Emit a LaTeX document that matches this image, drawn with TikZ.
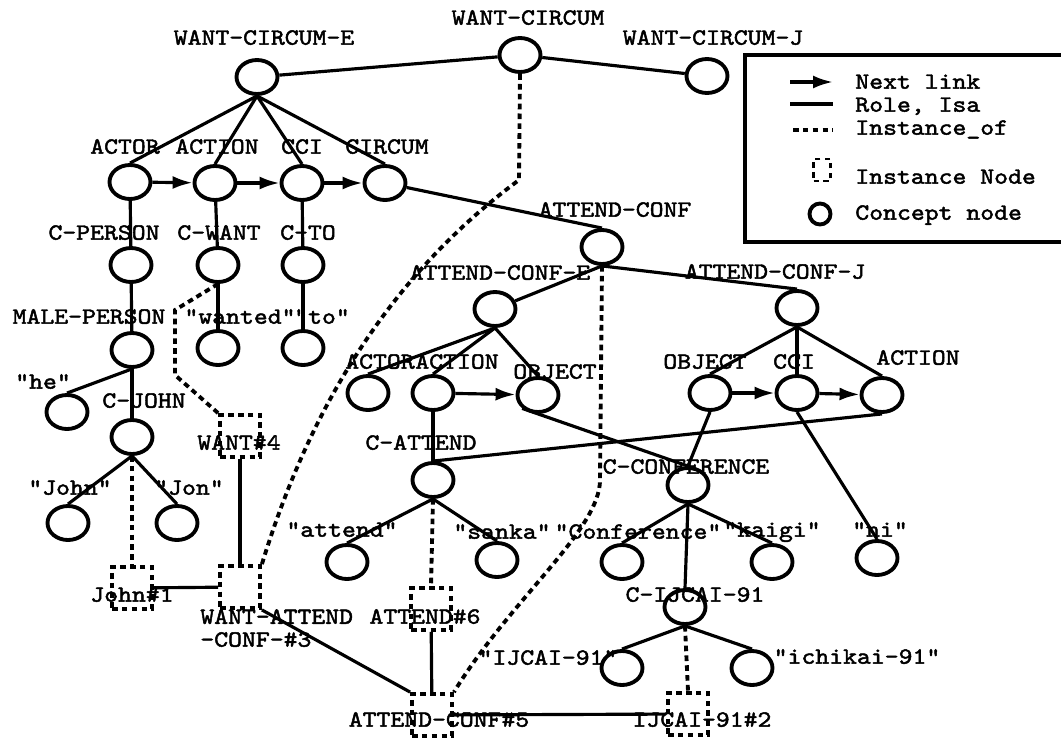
\documentclass[tikz,border=0pt]{standalone}
\usepackage{fontspec}
\usetikzlibrary{arrows.meta,shapes.geometric}
\newfontfamily\lblfont{lmmono10-regular.otf}[FakeStretch=1.14, FakeBold=2]

\begin{document}
\begin{tikzpicture}[x=0.02cm, y=-0.02cm,
  cpt/.style={ellipse, draw, line width=2.2pt, minimum width=0.82cm, minimum height=0.68cm, inner sep=0pt},
  inst/.style={rectangle, draw, line width=2.2pt, dash pattern=on 3.2pt off 2.4pt, minimum width=0.8cm, minimum height=0.84cm, inner sep=0pt},
  lbl/.style={font=\lblfont\fontsize{13.2}{13}\selectfont, inner sep=0pt, text height=7.6pt, text depth=0pt},
  lbltwo/.style={font=\lblfont\fontsize{13.2}{13}\selectfont, inner sep=0pt, align=left},
  role/.style={line width=1.8pt},
  nxt/.style={line width=1.8pt, -{Latex[length=0.4cm, width=0.26cm]}},
  instof/.style={line width=2.2pt, dash pattern=on 3.2pt off 2.4pt}]

\useasboundingbox (0,0) rectangle (1061,737);

% WANT-CIRCUM frames
\node[cpt] (wce) at (257,77) {};
\node[cpt] (wc) at (520,55) {};
\node[cpt] (wcj) at (707,76) {};
\node[cpt] (eactor) at (130,182) {};
\node[cpt] (eaction) at (215,183) {};
\node[cpt] (ecci) at (302,183) {};
\node[cpt] (ecircum) at (385,183) {};
\node[cpt] (cperson) at (131,265) {};
\node[cpt] (cwant) at (218,265) {};
\node[cpt] (cto) at (303,265) {};
\node[cpt] (male) at (132,350) {};
\node[cpt] (wanted) at (218,348) {};
\node[cpt] (to) at (303,348) {};
\node[cpt] (he) at (67,412) {};
\node[cpt] (cjohn) at (132,437) {};
\node[cpt] (john) at (68,523) {};
\node[cpt] (jon) at (177,523) {};

% ATTEND-CONF frames
\node[cpt] (ac) at (602,247) {};
\node[cpt] (ace) at (495,309) {};
\node[cpt] (acj) at (797,308) {};
\node[cpt] (aactor) at (368,393) {};
\node[cpt] (aaction) at (433,393) {};
\node[cpt] (aobject) at (538,395) {};
\node[cpt] (jobject) at (710,393) {};
\node[cpt] (jcci) at (797,393) {};
\node[cpt] (jaction) at (882,395) {};
\node[cpt] (cattend) at (433,480) {};
\node[cpt] (cconf) at (688,485) {};
\node[cpt] (attend) at (347,562) {};
\node[cpt] (sanka) at (497,560) {};
\node[cpt] (conference) at (622,562) {};
\node[cpt] (kaigi) at (772,562) {};
\node[cpt] (ni) at (877,558) {};
\node[cpt] (cijcai) at (685,607) {};
\node[cpt] (ijcai) at (622,668) {};
\node[cpt] (ichikai) at (752,668) {};

% instances
\node[inst] (want4) at (240,436) {};
\node[inst] (john1) at (132,588) {};
\node[inst] (want3) at (240,587) {};
\node[inst] (attend6) at (431,609) {};
\node[inst] (attend5) at (432,715) {};
\node[inst] (ijcai2) at (688,714) {};

% role, isa
\draw[role] (wce) -- (wc);
\draw[role] (wc) -- (wcj);
\foreach \n in {eactor,eaction,ecci,ecircum}
  \draw[role] (wce.south) -- (\n.north);
\draw[role] (eactor) -- (cperson);
\draw[role] (eaction) -- (cwant);
\draw[role] (ecci) -- (cto);
\draw[role] (cperson) -- (male);
\draw[role] (cwant) -- (wanted);
\draw[role] (cto) -- (to);
\draw[role] (male.south) -- (he.north);
\draw[role] (male) -- (cjohn);
\draw[role] (cjohn.south) -- (john.north);
\draw[role] (cjohn.south) -- (jon.north);

\draw[role] (ecircum) -- (ac.north);
\draw[role] (ac.south) -- (ace);
\draw[role] (ac.south) -- (acj.north);
\foreach \n in {aactor,aaction,aobject}
  \draw[role] (ace.south) -- (\n.north);
\foreach \n in {jobject,jcci,jaction}
  \draw[role] (acj.south) -- (\n.north);
\draw[role] (aaction) -- (cattend);
\draw[role] (aobject.south west) -- (cconf.north);
\draw[role] (jobject.south) -- (cconf.north);
\draw[role] (jaction.south) -- (cattend.north);
\draw[role] (jcci.south) -- (ni.north);
\draw[role] (cattend.south) -- (attend.north);
\draw[role] (cattend.south) -- (sanka.north);
\draw[role] (cconf.south) -- (conference.north);
\draw[role] (cconf.south) -- (kaigi.north);
\draw[role] (cconf.south) -- (cijcai.north);
\draw[role] (cijcai.south) -- (ijcai.north);
\draw[role] (cijcai.south) -- (ichikai.north);

\draw[role] (want4) -- (want3);
\draw[role] (john1) -- (want3);
\draw[role] (want3.south east) -- (attend5.north west);
\draw[role] (attend6) -- (attend5);
\draw[role] (attend5) -- (ijcai2);

% next links
\draw[nxt] (eactor) -- (eaction);
\draw[nxt] (eaction) -- (ecci);
\draw[nxt] (ecci) -- (ecircum);
\draw[nxt] (aaction) -- (aobject);
\draw[nxt] (jobject) -- (jcci);
\draw[nxt] (jcci) -- (jaction);

% instance_of
\draw[instof] (want4.north west) -- (175,375) -- (175,310) -- (cwant.south);
\draw[instof] (cjohn.south) -- (john1.north);
\draw[instof] (want3.north east) .. controls (300,440) and (370,290) .. (519,180) -- (wc.south);
\draw[instof] (ac.south) -- (600,480) .. controls (600,530) and (510,600) .. (attend5.north east);
\draw[instof] (cattend.south) -- (attend6.north);
\draw[instof] (cijcai.south) -- (ijcai2.north);

% labels
\node[lbl] (lwce) at (264,38) {WANT-CIRCUM-E};
\node[lbl] (lwc) at (528,18) {WANT-CIRCUM};
\node[lbl] (lwcj) at (713,38) {WANT-CIRCUM-J};
\node[lbl] (leactor) at (125,147) {ACTOR};
\node[lbl] (leaction) at (217,147) {ACTION};
\node[lbl] (lecci) at (302,147) {CCI};
\node[lbl] (lecircum) at (387,147) {CIRCUM};
\node[lbl] (lcperson) at (104,233) {C-PERSON};
\node[lbl] (lcwant) at (219,233) {C-WANT};
\node[lbl] (lcto) at (308,233) {C-TO};
\node[lbl] (lmale) at (89,317) {MALE-PERSON};
\node[lbl] (lwanted) at (240,317) {"wanted"};
\node[lbl] (lto) at (322,317) {"to"};
\node[lbl] (lhe) at (43,382) {"he"};
\node[lbl] (lcjohn) at (144,401) {C-JOHN};
\node[lbl] (ljohn) at (70,488) {"John"};
\node[lbl] (ljon) at (189,488) {"Jon"};
\node[lbl] (lwant4) at (239,443) {WANT\#4};
\node[lbl] (ljohn1) at (132,595) {John\#1};
\node[lbltwo, anchor=north west] (lwant3) at (200,609) {WANT-ATTEND\\-CONF-\#3};
\node[lbl] (lattend6) at (425,617) {ATTEND\#6};
\node[lbl] (lattend5) at (439,720) {ATTEND-CONF\#5};
\node[lbl] (lijcai2) at (702,720) {IJCAI-91\#2};
\node[lbl] (lac) at (615,210) {ATTEND-CONF};
\node[lbl] (lace) at (500,273) {ATTEND-CONF-E};
\node[lbl] (lacj) at (775,272) {ATTEND-CONF-J};
\node[lbl] (laactor) at (380,362) {ACTOR};
\node[lbl] (laaction) at (457,362) {ACTION};
\node[lbl] (laobject) at (555,372) {OBJECT};
\node[lbl] (ljobject) at (705,362) {OBJECT};
\node[lbl] (ljcci) at (794,362) {CCI};
\node[lbl] (ljaction) at (918,358) {ACTION};
\node[lbl] (lcattend) at (421,443) {C-ATTEND};
\node[lbl] (lcconf) at (686,467) {C-CONFERENCE};
\node[lbl] (lattend) at (342,530) {"attend"};
\node[lbl] (lsanka) at (502,532) {"sanka"};
\node[lbl] (lconference) at (638,532) {"Conference"};
\node[lbl] (lkaigi) at (772,530) {"kaigi"};
\node[lbl] (lni) at (880,530) {"ni"};
\node[lbl] (lcijcai) at (695,595) {C-IJCAI-91};
\node[lbl] (lijcai) at (548,658) {"IJCAI-91"};
\node[lbl] (lichikai) at (857,657) {"ichikai-91"};

% legend
\draw[role] (1061,55) -- (745,55) -- (745,242) -- (1061,242);
\draw[nxt] (790,82) -- (833,82);
\draw[role] (790,104) -- (833,104);
\draw[instof] (793,130) -- (833,130);
\node[inst, minimum width=0.34cm, minimum height=0.44cm, line width=1.6pt] (keyinst) at (822,170) {};
\node[cpt, circle, minimum width=0.42cm, minimum height=0.42cm] (keycpt) at (820,214) {};
\node[lbl, anchor=west] (lnext) at (855,82) {Next link};
\node[lbl, anchor=west] (lrole) at (855,105) {Role, Isa};
\node[lbl, anchor=west] (linst) at (855,128) {Instance\_of};
\node[lbl, anchor=west] (linode) at (855,177) {Instance Node};
\node[lbl, anchor=west] (lcnode) at (855,213) {Concept node};

\end{tikzpicture}
\end{document}
